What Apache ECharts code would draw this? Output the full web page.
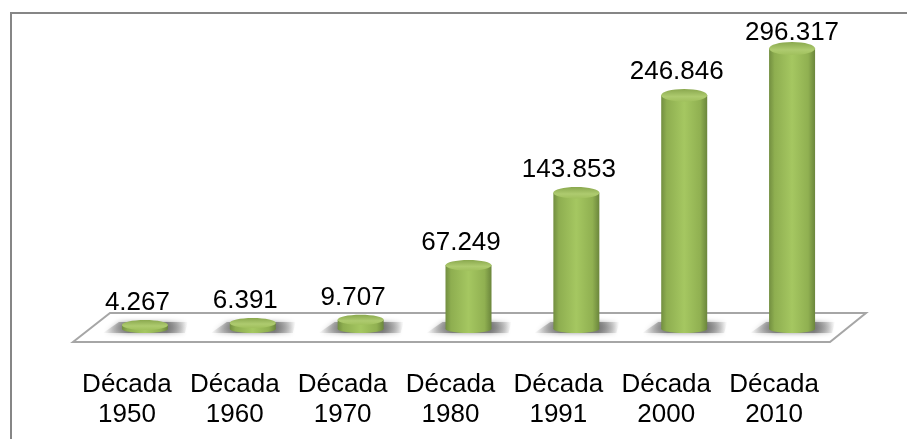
<!DOCTYPE html>
<html>
<head>
<meta charset="utf-8" />
<style>
  html, body { margin: 0; padding: 0; background: #fff; overflow: hidden; }
  #main { width: 907px; height: 439px; }
  .frame {
    position: absolute; left: 10px; top: 12px; width: 960px; height: 480px;
    border: 2px solid #868686; box-sizing: border-box;
  }
</style>
</head>
<body>
<div id="main"></div>
<div class="frame"></div>
<script src="https://cdn.jsdelivr.net/npm/echarts@6/dist/echarts.min.js"></script>
<script>
const categories = ["Década\n1950", "Década\n1960", "Década\n1970", "Década\n1980", "Década\n1991", "Década\n2000", "Década\n2010"];
const values = [4267, 6391, 9707, 67249, 143853, 246846, 296317];
const valueLabels = ["4.267", "6.391", "9.707", "67.249", "143.853", "246.846", "296.317"];

const FONT = '"Liberation Sans", Arial, sans-serif';
const barW = 46;

const chart = echarts.init(document.getElementById("main"));

// cuerpo del cilindro
const bodyFill = new echarts.graphic.LinearGradient(0, 0, 1, 0, [
  { offset: 0, color: "#728e40" },
  { offset: 0.12, color: "#8eae50" },
  { offset: 0.5, color: "#a5c761" },
  { offset: 0.85, color: "#90b051" },
  { offset: 1, color: "#6b863c" },
]);
const capFill = new echarts.graphic.LinearGradient(0, 0, 0, 1, [
  { offset: 0, color: "#8aa84e" },
  { offset: 0.6, color: "#aecb6f" },
  { offset: 1, color: "#a0c05d" },
]);
const shadowFill = new echarts.graphic.LinearGradient(0, 0, 1, 0, [
  { offset: 0, color: "rgba(110,110,110,0)" },
  { offset: 0.3, color: "rgba(110,110,110,0.8)" },
  { offset: 0.75, color: "rgba(110,110,110,0.8)" },
  { offset: 1, color: "rgba(110,110,110,0)" },
]);

function renderFloor(params) {
  const g = params.coordSys;
  const bottom = g.y + g.height;
  return {
    type: "polygon",
    silent: true,
    shape: {
      points: [
        [g.x - 18, bottom + 13],
        [g.x + 19, bottom - 16],
        [g.x + g.width + 20, bottom - 16],
        [g.x + g.width - 16, bottom + 13],
      ],
    },
    style: { fill: "#fff", stroke: "#a6a6a6", lineWidth: 2 },
  };
}

function renderCylinder(params, api) {
  const p = api.coord([api.value(0), api.value(1)]);
  const base = api.coord([api.value(0), 0]);
  const h = base[1] - p[1];
  const rx = barW / 2;
  const ry = 5 + (1.5 * h) / 280;
  // la etiqueta mas alta queda empujada contra el borde superior
  const wanted = p[1] - ry - 17;
  const labelY = Math.max(wanted, 33);
  const labelX = wanted < 33 ? p[0] : p[0] - 7.5;
  return {
    type: "group",
    children: [
      {
        type: "polygon",
        shape: {
          points: [
            [base[0] - 42, base[1] + 4],
            [base[0] - 26, base[1] - 7],
            [base[0] + 43, base[1] - 7],
            [base[0] + 40, base[1] + 4],
          ],
        },
        style: { fill: shadowFill, shadowBlur: 5, shadowColor: "rgba(110,110,110,0.9)" },
      },
      {
        type: "ellipse",
        shape: { cx: base[0], cy: base[1], rx: rx, ry: 4 },
        style: { fill: bodyFill },
      },
      {
        type: "rect",
        shape: { x: base[0] - rx, y: p[1], width: barW, height: h },
        style: { fill: bodyFill },
      },
      {
        type: "ellipse",
        shape: { cx: p[0], cy: p[1], rx: rx, ry: ry },
        style: { fill: capFill },
      },
      {
        type: "text",
        style: {
          x: labelX,
          y: labelY,
          text: valueLabels[params.dataIndex],
          fill: "#000",
          font: "26px " + FONT,
          align: "center",
          verticalAlign: "middle",
        },
      },
    ],
  };
}

chart.setOption({
  animation: false,
  backgroundColor: "#fff",
  grid: { left: 91, right: 61, top: 45, bottom: 110 },
  xAxis: {
    type: "category",
    data: categories,
    axisLine: { show: false },
    axisTick: { show: false },
    axisLabel: {
      interval: 0,
      color: "#000",
      fontFamily: FONT,
      fontSize: 26,
      lineHeight: 30,
      margin: 41,
      padding: [0, 36, 0, 0],
    },
  },
  yAxis: { type: "value", min: 0, max: 300000, show: false },
  series: [
    {
      type: "custom",
      data: [0],
      z: 1,
      clip: false,
      silent: true,
      renderItem: renderFloor,
    },
    {
      type: "custom",
      data: values.map((v, i) => [i, v]),
      encode: { x: 0, y: 1 },
      z: 2,
      clip: false,
      renderItem: renderCylinder,
    },
  ],
});
</script>
</body>
</html>
